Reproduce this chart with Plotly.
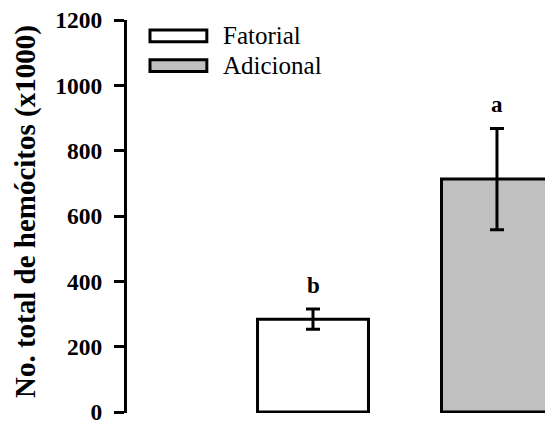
import plotly.graph_objects as go

categories = ["Fatorial", "Adicional"]
means = [284, 713]
errors = [31, 155]
letters = ["b", "a"]
colors = ["#ffffff", "#c0c0c0"]
y_ticks = [0, 200, 400, 600, 800, 1000, 1200]

SERIF = "Liberation Serif, Times New Roman, Times, DejaVu Serif, serif"

fig = go.Figure()
fig.add_trace(go.Bar(
    x=categories, y=means,
    width=0.603,
    marker=dict(color=colors, line=dict(color="black", width=3)),
    error_y=dict(type="data", array=errors, visible=True, color="black",
                 thickness=3, width=7),
    showlegend=False,
    hoverinfo="skip",
))

for c, m, e, t in zip(categories, means, errors, letters):
    fig.add_annotation(x=c, y=m + e, text=f"<b>{t}</b>", showarrow=False,
                       xanchor="center", yanchor="bottom", yshift=9,
                       font=dict(family=SERIF, size=23, color="black"))

# legend drawn as long boxes
leg_y = [(0.9446, 0.9748), (0.869, 0.899)]
for (y0, y1), col, name in zip(leg_y, colors, categories):
    fig.add_shape(type="rect", xref="paper", yref="paper",
                  x0=0.055, x1=0.191, y0=y0, y1=y1,
                  fillcolor=col, line=dict(color="black", width=3))
    fig.add_annotation(xref="paper", yref="paper", x=0.225, y=(y0 + y1) / 2,
                       text=name, showarrow=False, xanchor="left", yanchor="middle",
                       font=dict(family=SERIF, size=25, color="black", weight="normal"))

fig.add_annotation(xref="paper", yref="paper", x=(25 - 127) / 418, y=(417 - 214) / 397,
                   text="<b>No. total de hemócitos (x1000)</b>", textangle=-90,
                   showarrow=False, xanchor="center", yanchor="middle",
                   font=dict(family=SERIF, size=29, color="black"))

fig.update_layout(
    width=545, height=425,
    margin=dict(l=127, r=0, t=20, b=8),
    plot_bgcolor="white", paper_bgcolor="white",
    bargap=0,
    hovermode=False,
    xaxis=dict(range=[-1.011, 1.261], showticklabels=False, showline=False,
               showgrid=False, zeroline=False, ticks=""),
    yaxis=dict(range=[-3, 1200], tickvals=y_ticks, showgrid=False, zeroline=False,
               showline=True, linecolor="black", linewidth=3,
               ticks="outside", ticklen=10, tickwidth=3, tickcolor="black",
               ticklabeloverflow="allow", ticklabelstandoff=7,
               tickfont=dict(family=SERIF, size=23.5, color="black", weight="bold")),
)

fig.write_html("out.html",
               config={"displayModeBar": False, "staticPlot": True},
               post_script="document.body.style.margin='0';document.body.style.overflow='hidden';")
